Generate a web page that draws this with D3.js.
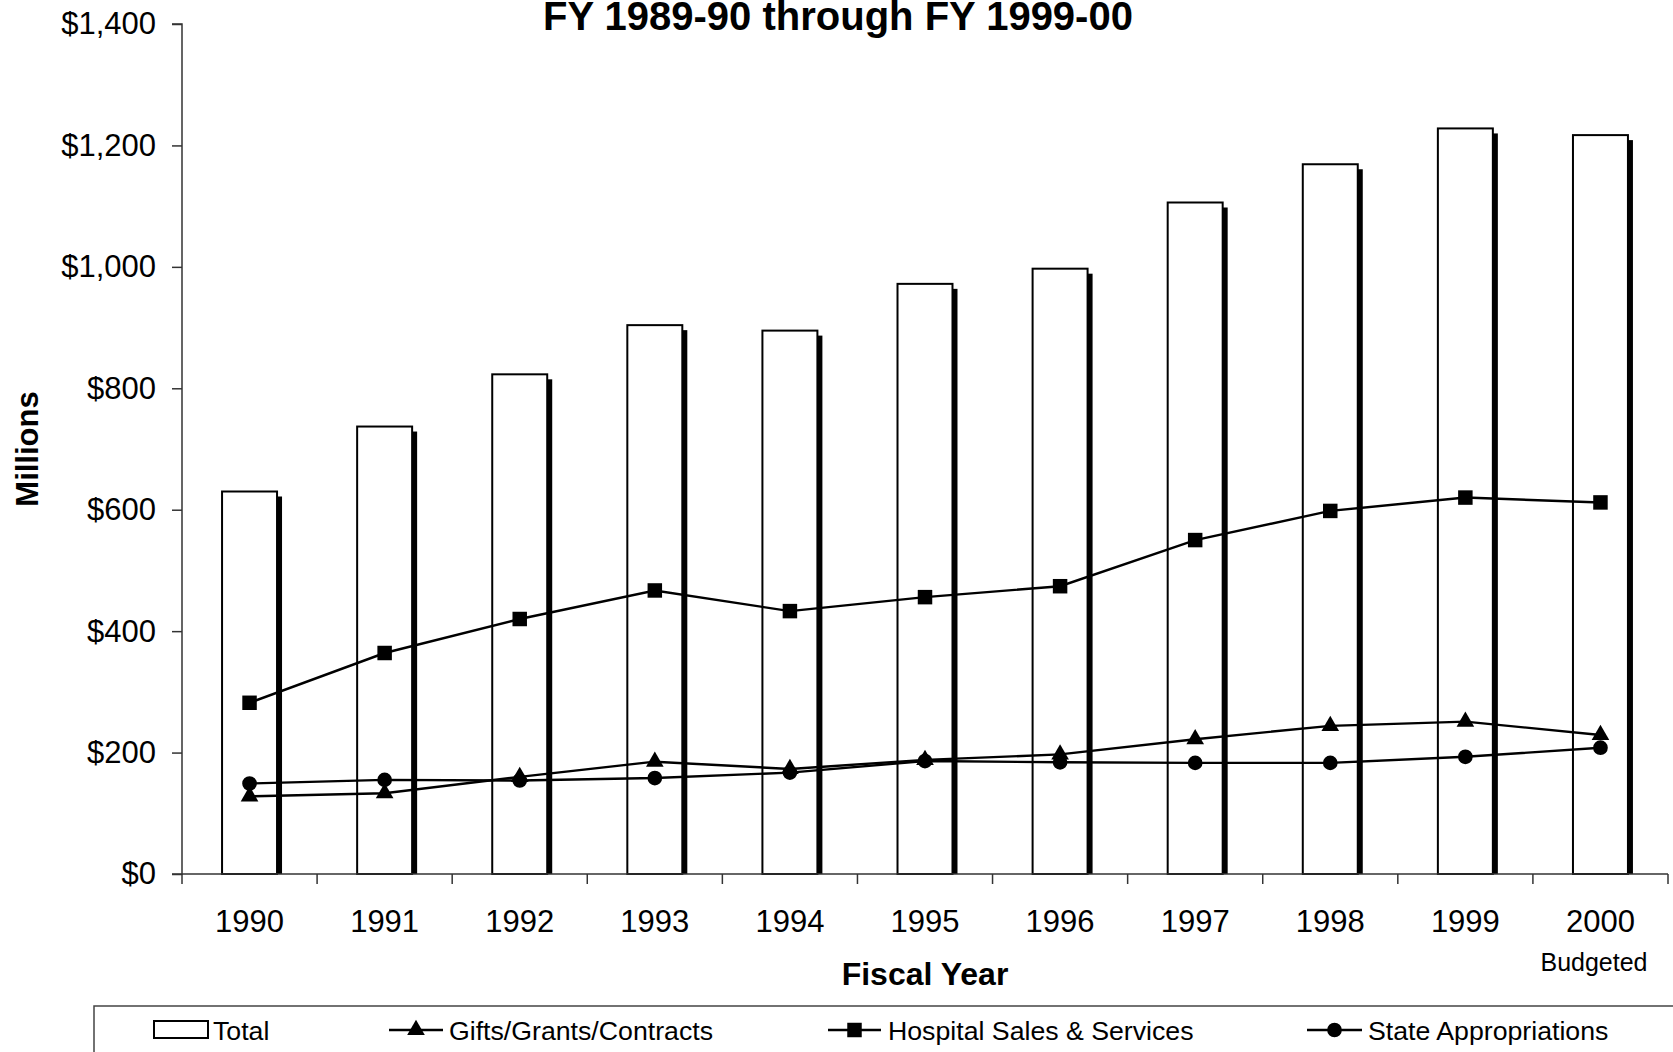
<!DOCTYPE html>
<html>
<head>
<meta charset="utf-8">
<script src="https://cdn.jsdelivr.net/npm/d3@7/dist/d3.min.js"></script>
<style>
  html, body { margin: 0; padding: 0; background: #fff; }
  svg { display: block; font-family: "Liberation Sans", Arial, sans-serif; }
</style>
</head>
<body>
<svg id="chart" width="1673" height="1052"></svg>
<script>
const years = ["1990","1991","1992","1993","1994","1995","1996","1997","1998","1999","2000"];
const total = [630, 737, 823, 904, 895, 972, 997, 1106, 1169, 1228, 1217];
const gifts = [128, 133, 160, 185, 173, 188, 197, 222, 244, 251, 229];
const hospital = [282, 364, 420, 467, 433, 456, 474, 550, 598, 620, 612];
const stateApp = [149, 155, 154, 158, 167, 186, 184, 183, 183, 193, 208];
const yTicks = [0, 200, 400, 600, 800, 1000, 1200, 1400];

const svg = d3.select("#chart");
const L = 182, R = 1668, T = 24, B = 874;

const x = d3.scaleBand().domain(years).range([L, R]).padding(0);
const y = d3.scaleLinear().domain([0, 1400]).range([B, T]);
const bw = x.bandwidth() * 0.407;
const cx = d => x(d) + x.bandwidth() / 2;

// Title
svg.append("text").attr("x", 838).attr("y", 30).attr("text-anchor", "middle")
  .attr("font-size", 40).attr("font-weight", "bold")
  .text("FY 1989-90 through FY 1999-00");

// Bars with shadow
const off = 5;
const gBars = svg.append("g");
years.forEach((yr, i) => {
  const bx = cx(yr) - bw / 2, by = y(total[i]);
  gBars.append("rect").attr("x", bx + off).attr("y", by + off)
    .attr("width", bw).attr("height", B - by - off).attr("fill", "#000");
  gBars.append("rect").attr("x", bx).attr("y", by)
    .attr("width", bw).attr("height", B - by)
    .attr("fill", "#fff").attr("stroke", "#000").attr("stroke-width", 2);
});

// Axes
const yAxis = d3.axisLeft(y).tickValues(yTicks).tickSize(10).tickPadding(16)
  .tickFormat(d => "$" + d3.format(",")(d));
const gy = svg.append("g").attr("transform", `translate(${L},0)`).call(yAxis);
gy.select(".domain").attr("stroke", "#333").attr("stroke-width", 1.5).attr("d", `M-10,${T}H0V${B}H-10`);
gy.selectAll(".tick line").attr("stroke", "#333").attr("stroke-width", 1.5);
gy.selectAll(".tick text").attr("font-size", 31).attr("fill", "#000")
  .attr("font-family", "Liberation Sans, Arial, sans-serif");

const gx = svg.append("g").attr("transform", `translate(0,${B})`);
gx.append("line").attr("x1", L).attr("x2", R).attr("y1", 0).attr("y2", 0)
  .attr("stroke", "#333").attr("stroke-width", 1.5);
const bounds = years.map(d => x(d)).concat([R]);
gx.selectAll("line.tk").data(bounds).enter().append("line").attr("class", "tk")
  .attr("x1", d => d).attr("x2", d => d).attr("y1", 0).attr("y2", 10)
  .attr("stroke", "#333").attr("stroke-width", 1.5);
gx.selectAll("text.lbl").data(years).enter().append("text").attr("class", "lbl")
  .attr("x", d => cx(d)).attr("y", 58).attr("text-anchor", "middle")
  .attr("font-size", 31).text(d => d);
svg.append("text").attr("x", 1594).attr("y", 971).attr("text-anchor", "middle")
  .attr("font-size", 25).text("Budgeted");

// Axis titles
svg.append("text").attr("x", 925).attr("y", 985).attr("text-anchor", "middle")
  .attr("font-size", 32).attr("font-weight", "bold").text("Fiscal Year");
svg.append("text").attr("transform", `translate(38,449) rotate(-90)`)
  .attr("text-anchor", "middle").attr("font-size", 31).attr("font-weight", "bold").text("Millions");

// Lines
const line = d3.line().x((d, i) => cx(years[i])).y(d => y(d));
const series = [
  { vals: stateApp, sym: d3.symbolCircle, size: 170 },
  { vals: gifts, sym: d3.symbolTriangle, size: 135 },
  { vals: hospital, sym: d3.symbolSquare, size: 210 }
];
series.forEach(s => {
  svg.append("path").datum(s.vals).attr("d", line)
    .attr("fill", "none").attr("stroke", "#000").attr("stroke-width", 2.4);
});
series.forEach(s => {
  svg.append("g").selectAll("path").data(s.vals).enter().append("path")
    .attr("transform", (d, i) => `translate(${cx(years[i])},${y(d)})`)
    .attr("d", d3.symbol().type(s.sym).size(s.size)).attr("fill", "#000");
});

// Legend
const lg = svg.append("g");
lg.append("rect").attr("x", 94).attr("y", 1006).attr("width", 1700).attr("height", 120)
  .attr("fill", "#fff").attr("stroke", "#444").attr("stroke-width", 1.5);
const ly = 1030;
lg.append("rect").attr("x", 154).attr("y", 1021).attr("width", 54).attr("height", 17)
  .attr("fill", "#fff").attr("stroke", "#000").attr("stroke-width", 2);
lg.append("text").attr("x", 213).attr("y", 1040).attr("font-size", 26.7).text("Total");
const items = [
  { x0: 389, x1: 443, tx: 449, sym: d3.symbolTriangle, size: 135, label: "Gifts/Grants/Contracts" },
  { x0: 828, x1: 881, tx: 888, sym: d3.symbolSquare, size: 210, label: "Hospital Sales & Services" },
  { x0: 1307, x1: 1362, tx: 1368, sym: d3.symbolCircle, size: 170, label: "State Appropriations" }
];
items.forEach(it => {
  lg.append("line").attr("x1", it.x0).attr("x2", it.x1).attr("y1", ly).attr("y2", ly)
    .attr("stroke", "#000").attr("stroke-width", 2.4);
  lg.append("path").attr("transform", `translate(${(it.x0 + it.x1) / 2},${ly})`)
    .attr("d", d3.symbol().type(it.sym).size(it.size)).attr("fill", "#000");
  lg.append("text").attr("x", it.tx).attr("y", 1040).attr("font-size", 26.7).text(it.label);
});
</script>
</body>
</html>
